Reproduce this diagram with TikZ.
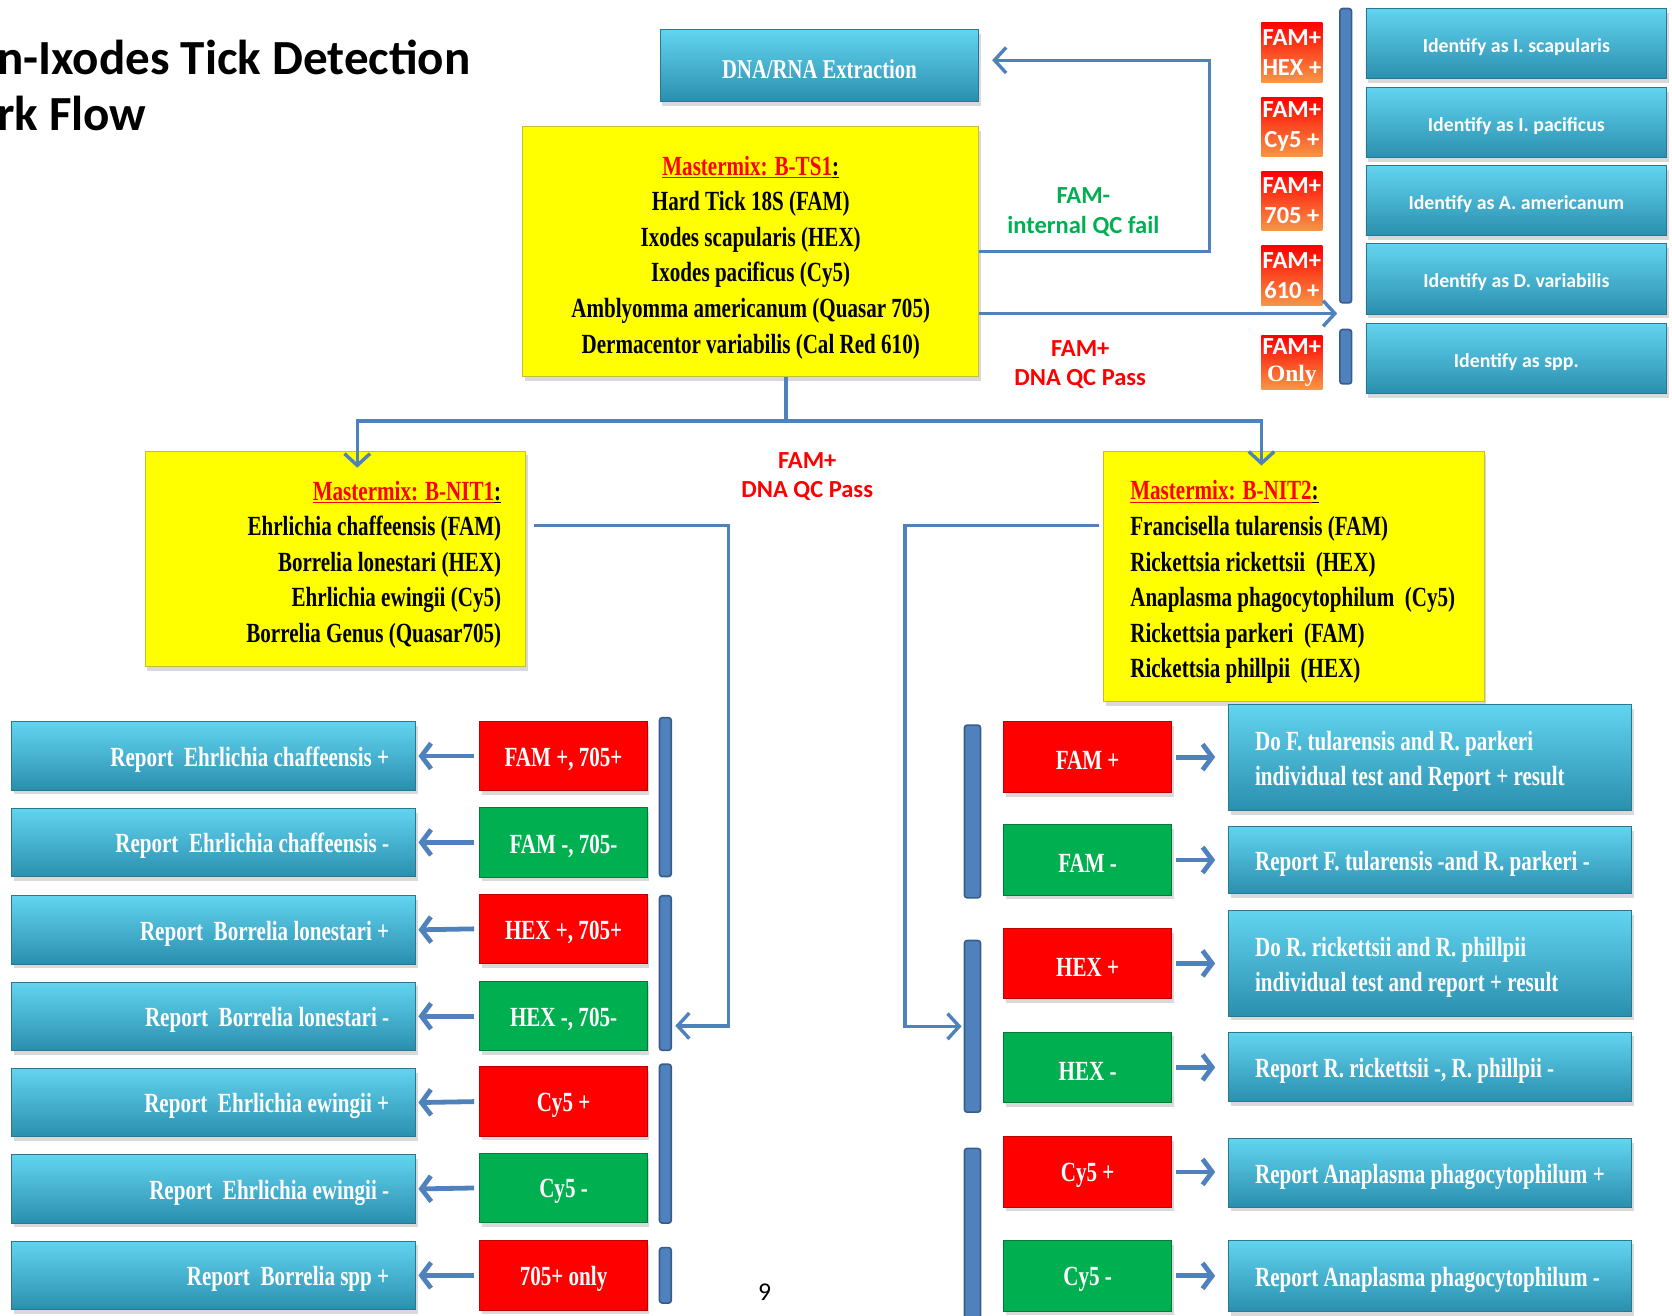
\documentclass[tikz,border=0pt]{standalone}
\usepackage{fontspec}
\setmainfont{Liberation Serif}
\newfontfamily\boxfont{Liberation Serif}[FakeStretch=0.76]
\newfontfamily\labfont{Carlito}
\usetikzlibrary{arrows.meta,shadows,positioning}

\definecolor{flowblue}{HTML}{4F81BD}
\definecolor{bardark}{HTML}{385D8A}
\definecolor{cyantop}{HTML}{62D4F0}
\definecolor{cyanmid}{HTML}{38B2D6}
\definecolor{cyanbot}{HTML}{2A8FAE}
\definecolor{cyanline}{HTML}{2A7890}
\definecolor{posred}{HTML}{FF0000}
\definecolor{neggreen}{HTML}{00B050}
\definecolor{famorange}{HTML}{F79646}
\definecolor{mixyellow}{HTML}{FFFF00}

\tikzset{
  box/.style={rectangle, inner sep=0pt, drop shadow={opacity=0.3, shadow xshift=2pt, shadow yshift=-4pt}},
  cyanbox/.style={box, top color=cyantop, middle color=cyanmid, bottom color=cyanbot, draw=cyanline, line width=0.8pt, text=white},
  report/.style={cyanbox, font=\boxfont\bfseries\fontsize{26}{33}\selectfont, execute at begin node={\rule{0pt}{25pt}}},
  ident/.style={cyanbox, minimum width=282pt, minimum height=66pt, font=\labfont\bfseries\fontsize{18.6}{24}\selectfont, execute at begin node={\rule{0pt}{20pt}}},
  posbox/.style={box, fill=posred, draw=red!75!black, line width=0.8pt, text=white, font=\boxfont\bfseries\fontsize{26}{33}\selectfont, execute at begin node={\rule{0pt}{24pt}}},
  negbox/.style={box, fill=neggreen, draw=neggreen!70!black, line width=0.8pt, text=white, font=\boxfont\bfseries\fontsize{26}{33}\selectfont, execute at begin node={\rule{0pt}{24pt}}},
  mix/.style={box, fill=mixyellow, draw=yellow!75!black, line width=0.8pt, font=\boxfont\bfseries\fontsize{26}{33.4}\selectfont, execute at begin node={\rule{0pt}{29pt}}},
  famtag/.style={rectangle, inner sep=0pt, minimum width=57pt, top color=posred, middle color=posred, bottom color=famorange, text=white, align=flush center, font=\labfont\bfseries\fontsize{23}{28}\selectfont},
  bar/.style={rectangle, rounded corners=2.5pt, fill=flowblue, draw=bardark, line width=1.5pt, inner sep=0pt},
  flow/.style={draw=flowblue, line width=3.2pt},
  link/.style={draw=flowblue, line width=4.5pt, -{Straight Barb[length=9pt,width=24pt]}},
  note/.style={align=flush center, font=\labfont\bfseries\fontsize{23}{27.5}\selectfont}
}

\begin{document}
\begin{tikzpicture}[x=1pt, y=-1pt]
	\useasboundingbox (0,0) rectangle (1568,1234);

	% title
	\node[anchor=base west, inner sep=0pt, font=\labfont\bfseries\fontsize{46}{52}\selectfont] (title1) at (-3,70) {n-Ixodes Tick Detection};
	\node[anchor=base west, inner sep=0pt, font=\labfont\bfseries\fontsize{46}{52}\selectfont] (title2) at (-3,122) {rk Flow};

	% screening mastermix
	\node[report, minimum width=299pt, minimum height=67pt, font=\boxfont\bfseries\fontsize{25.5}{30}\selectfont] (dna) at (768.5,61.5) {DNA/RNA Extraction};
	\node[mix, minimum width=428pt, minimum height=234pt, text width=410pt, align=flush center] (ts1) at (704,236) {\textcolor{red}{\underline{Mastermix: B-TS1}}\underline{:}\\Hard Tick 18S (FAM)\\Ixodes scapularis (HEX)\\Ixodes pacificus (Cy5)\\Amblyomma americanum (Quasar 705)\\Dermacentor variabilis (Cal Red 610)};

	\node[note, text=neggreen] (qcfail) at (1016,199) {FAM-\\internal QC fail};
	\node[note, text=posred] (qcpass1) at (1013,342) {FAM+\\DNA QC Pass};
	\node[note, text=posred] (qcpass2) at (757,447) {FAM+\\DNA QC Pass};

	% tick identification
	\node[famtag, minimum height=56pt] (t1) at (1211.5,49) {FAM+\\HEX +};
	\node[famtag, minimum height=56pt] (t2) at (1211.5,119) {FAM+\\Cy5 +};
	\node[famtag, minimum height=56pt] (t3) at (1211.5,188.5) {FAM+\\705 +};
	\node[famtag, minimum height=56pt] (t4) at (1211.5,258.5) {FAM+\\610 +};
	\node[famtag, minimum height=50pt] (t5) at (1211.5,340) {FAM+\\[-3pt]{\rmfamily\fontsize{22}{24}\selectfont Only}};

	\node[bar, minimum width=11pt, minimum height=276pt] (tbar1) at (1262,146) {};
	\node[bar, minimum width=11pt, minimum height=51pt] (tbar2) at (1262,334.5) {};

	\node[ident] (id1) at (1422,41) {Identify as I. scapularis};
	\node[ident] (id2) at (1422,115) {Identify as I. pacificus};
	\node[ident] (id3) at (1422,188) {Identify as A. americanum};
	\node[ident] (id4) at (1422,261.5) {Identify as D. variabilis};
	\node[ident] (id5) at (1422,336) {Identify as spp.};

	\coordinate (tagsin) at (1254,294);

	\draw[flow, -{Straight Barb[length=11pt,width=24pt]}] (ts1.east) -- ++(216,0) |- ([xshift=12pt,yshift=5pt]dna.east);
	\draw[flow, -{Straight Barb[length=11pt,width=24pt]}] ([yshift=-58pt]ts1.east) -- (tagsin);

	% split to the two panels
	\node[mix, minimum width=357pt, minimum height=202pt, text width=311pt, align=flush right] (nit1) at (314.5,524) {\textcolor{red}{\underline{Mastermix: B-NIT1}}\underline{:}\\Ehrlichia chaffeensis (FAM)\\Borrelia lonestari (HEX)\\Ehrlichia ewingii (Cy5)\\Borrelia Genus (Quasar705)};
	\node[mix, minimum width=357pt, minimum height=235pt, text width=307pt, align=flush left] (nit2) at (1213.5,540.5) {\textcolor{red}{\underline{Mastermix: B-NIT2}}\underline{:}\\Francisella tularensis (FAM)\\Rickettsia rickettsii\ \ (HEX)\\Anaplasma phagocytophilum\ \ (Cy5)\\Rickettsia parkeri\ \ (FAM)\\Rickettsia phillpii\ \ (HEX)};

	\coordinate (split) at ([xshift=33pt]ts1.south |- 0,395);
	\draw[flow] ([xshift=33pt]ts1.south) -- (split);
	\draw[flow, -{Straight Barb[length=11pt,width=24pt]}] (split) -| ([xshift=20.5pt,yshift=-16pt]nit1.north);
	\draw[flow, -{Straight Barb[length=11pt,width=24pt]}] (split) -| ([xshift=-30.5pt,yshift=-14pt]nit2.north);

	% B-NIT1 results
	\node[report, minimum width=379pt, minimum height=64pt, text width=329pt, align=flush right] (r1) at (200.5,709) {Report\ \ Ehrlichia chaffeensis +};
	\node[report, minimum width=379pt, minimum height=64pt, text width=329pt, align=flush right] (r2) at (200.5,790) {Report\ \ Ehrlichia chaffeensis -};
	\node[report, minimum width=379pt, minimum height=64pt, text width=329pt, align=flush right] (r3) at (200.5,872) {Report\ \ Borrelia lonestari +};
	\node[report, minimum width=379pt, minimum height=64pt, text width=329pt, align=flush right] (r4) at (200.5,953) {Report\ \ Borrelia lonestari -};
	\node[report, minimum width=379pt, minimum height=64pt, text width=329pt, align=flush right] (r5) at (200.5,1034) {Report\ \ Ehrlichia ewingii +};
	\node[report, minimum width=379pt, minimum height=64pt, text width=329pt, align=flush right] (r6) at (200.5,1115) {Report\ \ Ehrlichia ewingii -};
	\node[report, minimum width=379pt, minimum height=64pt, text width=329pt, align=flush right] (r7) at (200.5,1196) {Report\ \ Borrelia spp +};

	\node[posbox, minimum width=157pt, minimum height=65pt] (p1) at (528.5,709) {FAM +, 705+};
	\node[negbox, minimum width=157pt, minimum height=65pt] (p2) at (528.5,790) {FAM -, 705-};
	\node[posbox, minimum width=157pt, minimum height=65pt] (p3) at (528.5,871) {HEX +, 705+};
	\node[negbox, minimum width=157pt, minimum height=65pt] (p4) at (528.5,953) {HEX -, 705-};
	\node[posbox, minimum width=157pt, minimum height=65pt] (p5) at (528.5,1033) {Cy5 +};
	\node[negbox, minimum width=157pt, minimum height=65pt] (p6) at (528.5,1114) {Cy5 -};
	\node[posbox, minimum width=157pt, minimum height=65pt] (p7) at (528.5,1196) {705+ only};

	\node[bar, minimum width=11pt, minimum height=149pt] (lbar1) at (624,747.5) {};
	\node[bar, minimum width=11pt, minimum height=145pt] (lbar2) at (624,912.5) {};
	\node[bar, minimum width=11pt, minimum height=149pt] (lbar3) at (624,1072.5) {};
	\node[bar, minimum width=11pt, minimum height=52pt] (lbar4) at (624,1196) {};

	\draw[flow, -{Straight Barb[length=11pt,width=24pt]}] ([xshift=7pt,yshift=31pt]nit1.east) -- ++(183,0) |- ([xshift=3pt]lbar2.east |- 0,962);

	\draw[link, shorten <=5pt, shorten >=2pt] (p1.west) -- (r1.east);
	\draw[link, shorten <=5pt, shorten >=2pt] (p2.west) -- (r2.east);
	\draw[link, shorten <=5pt, shorten >=2pt] (p3.west) -- (r3.east);
	\draw[link, shorten <=5pt, shorten >=2pt] (p4.west) -- (r4.east);
	\draw[link, shorten <=5pt, shorten >=2pt] (p5.west) -- (r5.east);
	\draw[link, shorten <=5pt, shorten >=2pt] (p6.west) -- (r6.east);
	\draw[link, shorten <=5pt, shorten >=2pt] (p7.west) -- (r7.east);

	% B-NIT2 results
	\node[bar, minimum width=15pt, minimum height=162pt] (rbar1) at (912,761) {};
	\node[bar, minimum width=15pt, minimum height=161pt] (rbar2) at (912,962.5) {};
	\node[bar, minimum width=15pt, minimum height=180pt] (rbar3) at (912,1167) {};

	\draw[flow, -{Straight Barb[length=11pt,width=24pt]}] ([xshift=-4pt,yshift=47.5pt]nit2.west) -- ++(-182,0) |- ([xshift=-2pt]rbar2.west);

	\node[posbox, minimum width=158pt, minimum height=66pt] (q1) at (1020,710) {FAM +};
	\node[negbox, minimum width=158pt, minimum height=66pt] (q2) at (1020,806.5) {FAM -};
	\node[posbox, minimum width=158pt, minimum height=66pt] (q3) at (1020,903.5) {HEX +};
	\node[negbox, minimum width=158pt, minimum height=66pt] (q4) at (1020,1001) {HEX -};
	\node[posbox, minimum width=158pt, minimum height=66pt] (q5) at (1020,1099) {Cy5 +};
	\node[negbox, minimum width=158pt, minimum height=66pt] (q6) at (1020,1196.5) {Cy5 -};

	\node[report, minimum width=378pt, minimum height=99pt, text width=328pt, align=flush left] (a1) at (1341,710.5) {Do F. tularensis and R. parkeri\\individual test and Report + result};
	\node[report, minimum width=378pt, minimum height=63pt, text width=328pt, align=flush left] (a2) at (1341,806.5) {Report F. tularensis -and R. parkeri -};
	\node[report, minimum width=378pt, minimum height=99pt, text width=328pt, align=flush left] (a3) at (1341,903.5) {Do R. rickettsii and R. phillpii\\individual test and report + result};
	\node[report, minimum width=378pt, minimum height=65pt, text width=328pt, align=flush left] (a4) at (1341,1000.5) {Report R. rickettsii -, R. phillpii -};
	\node[report, minimum width=378pt, minimum height=64pt, text width=328pt, align=flush left] (a5) at (1341,1100) {Report Anaplasma phagocytophilum +};
	\node[report, minimum width=378pt, minimum height=67pt, text width=328pt, align=flush left] (a6) at (1341,1196.5) {Report Anaplasma phagocytophilum -};

	\draw[link, shorten <=3pt, shorten >=12pt] (q1.east) -- (a1.west |- q1.east);
	\draw[link, shorten <=3pt, shorten >=12pt] (q2.east) -- (a2.west |- q2.east);
	\draw[link, shorten <=3pt, shorten >=12pt] (q3.east) -- (a3.west |- q3.east);
	\draw[link, shorten <=3pt, shorten >=12pt] (q4.east) -- (a4.west |- q4.east);
	\draw[link, shorten <=3pt, shorten >=12pt] (q5.east) -- (a5.west |- q5.east);
	\draw[link, shorten <=3pt, shorten >=12pt] (q6.east) -- (a6.west |- q6.east);

	\node[font=\labfont\fontsize{24}{28}\selectfont] (page) at (717,1212) {9};
\end{tikzpicture}
\end{document}
